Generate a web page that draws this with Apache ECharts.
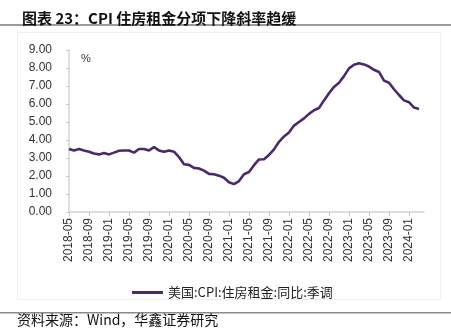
<!DOCTYPE html>
<html>
<head>
<meta charset="utf-8">
<script src="https://cdn.jsdelivr.net/npm/echarts@6/dist/echarts.min.js"></script>
<style>
html,body{margin:0;padding:0;background:#fff;}
#chart{width:451px;height:336px;}
</style>
</head>
<body>
<div id="chart"></div>
<script>
var titleText = '图表 23：CPI 住房租金分项下降斜率趋缓';
var sourceText = '资料来源：Wind，华鑫证券研究';
var seriesName = '美国:CPI:住房租金:同比:季调';
var yTicks = [0, 1, 2, 3, 4, 5, 6, 7, 8, 9];
var months = [
 '2018-05','2018-06','2018-07','2018-08','2018-09','2018-10','2018-11','2018-12',
 '2019-01','2019-02','2019-03','2019-04','2019-05','2019-06','2019-07','2019-08','2019-09','2019-10','2019-11','2019-12',
 '2020-01','2020-02','2020-03','2020-04','2020-05','2020-06','2020-07','2020-08','2020-09','2020-10','2020-11','2020-12',
 '2021-01','2021-02','2021-03','2021-04','2021-05','2021-06','2021-07','2021-08','2021-09','2021-10','2021-11','2021-12',
 '2022-01','2022-02','2022-03','2022-04','2022-05','2022-06','2022-07','2022-08','2022-09','2022-10','2022-11','2022-12',
 '2023-01','2023-02','2023-03','2023-04','2023-05','2023-06','2023-07','2023-08','2023-09','2023-10','2023-11','2023-12',
 '2024-01','2024-02','2024-03','2024-04'
];
var rentYoY = [
 3.50,3.42,3.50,3.42,3.35,3.25,3.20,3.28,
 3.20,3.30,3.40,3.42,3.42,3.30,3.50,3.50,3.42,3.60,3.42,3.35,
 3.42,3.35,3.05,2.65,2.62,2.45,2.42,2.30,2.12,2.10,2.02,1.90,
 1.65,1.55,1.72,2.10,2.22,2.60,2.92,2.93,3.17,3.48,3.90,4.20,
 4.42,4.80,5.00,5.20,5.45,5.65,5.78,6.20,6.60,6.95,7.18,7.55,
 7.98,8.18,8.27,8.20,8.08,7.90,7.78,7.30,7.18,6.82,6.50,6.20,
 6.10,5.80,5.72,null
];

var chart = echarts.init(document.getElementById('chart'), null, {renderer:'canvas'});
chart.setOption({
  backgroundColor:'#fff',
  animation:false,
  title:{
    text:titleText, left:17, top:6,
    textStyle:{fontFamily:'Noto Sans CJK SC', fontSize:15, fontWeight:'bold', color:'#111'}
  },
  graphic:[
    {type:'rect', shape:{x:0,y:24,width:451,height:2}, style:{fill:'#9a9a9a'}, silent:true},
    {type:'rect', shape:{x:17.5,y:32.5,width:423,height:267}, style:{fill:'none', stroke:'#efefef', lineWidth:1}, silent:true},
    {type:'rect', shape:{x:0,y:312,width:451,height:1.5}, style:{fill:'#8a8a8a'}, silent:true},
    {type:'text', left:17, top:313, style:{text:sourceText, font:'14px "Noto Sans CJK SC"', fill:'#111'}},
    {type:'text', left:81, top:53, style:{text:'%', font:'11px "Liberation Sans"', fill:'#333'}}
  ],
  legend:{
    left:127, top:281, icon:'rect', itemWidth:31, itemHeight:3, itemGap:10,
    textStyle:{fontFamily:'Noto Sans CJK SC', fontSize:13, color:'#222'},
    data:[seriesName]
  },
  grid:{left:69, right:27, top:50, bottom:124, containLabel:false},
  xAxis:{
    type:'category', data:months, boundaryGap:false,
    axisLine:{lineStyle:{color:'#d4d4d4', width:1.5}},
    axisTick:{show:true, interval:3, length:4, lineStyle:{color:'#c8c8c8'}},
    axisLabel:{interval:3, rotate:90, margin:6, fontFamily:'Liberation Sans', fontSize:12, color:'#333'},
    splitLine:{show:false}
  },
  yAxis:{
    type:'value', min:yTicks[0], max:yTicks[yTicks.length-1], interval:1,
    axisLine:{show:true, lineStyle:{color:'#d4d4d4', width:1.5}},
    axisTick:{show:true, length:3, lineStyle:{color:'#c8c8c8'}},
    axisLabel:{margin:17, fontFamily:'Liberation Sans', fontSize:12, color:'#333', formatter:function(v){return v.toFixed(2);}},
    splitLine:{show:false}
  },
  series:[{
    name:seriesName, type:'line', data:rentYoY, showSymbol:false, symbol:'none',
    lineStyle:{color:'#4a2a6b', width:2.6}, itemStyle:{color:'#4a2a6b'}
  }]
});
</script>
</body>
</html>
